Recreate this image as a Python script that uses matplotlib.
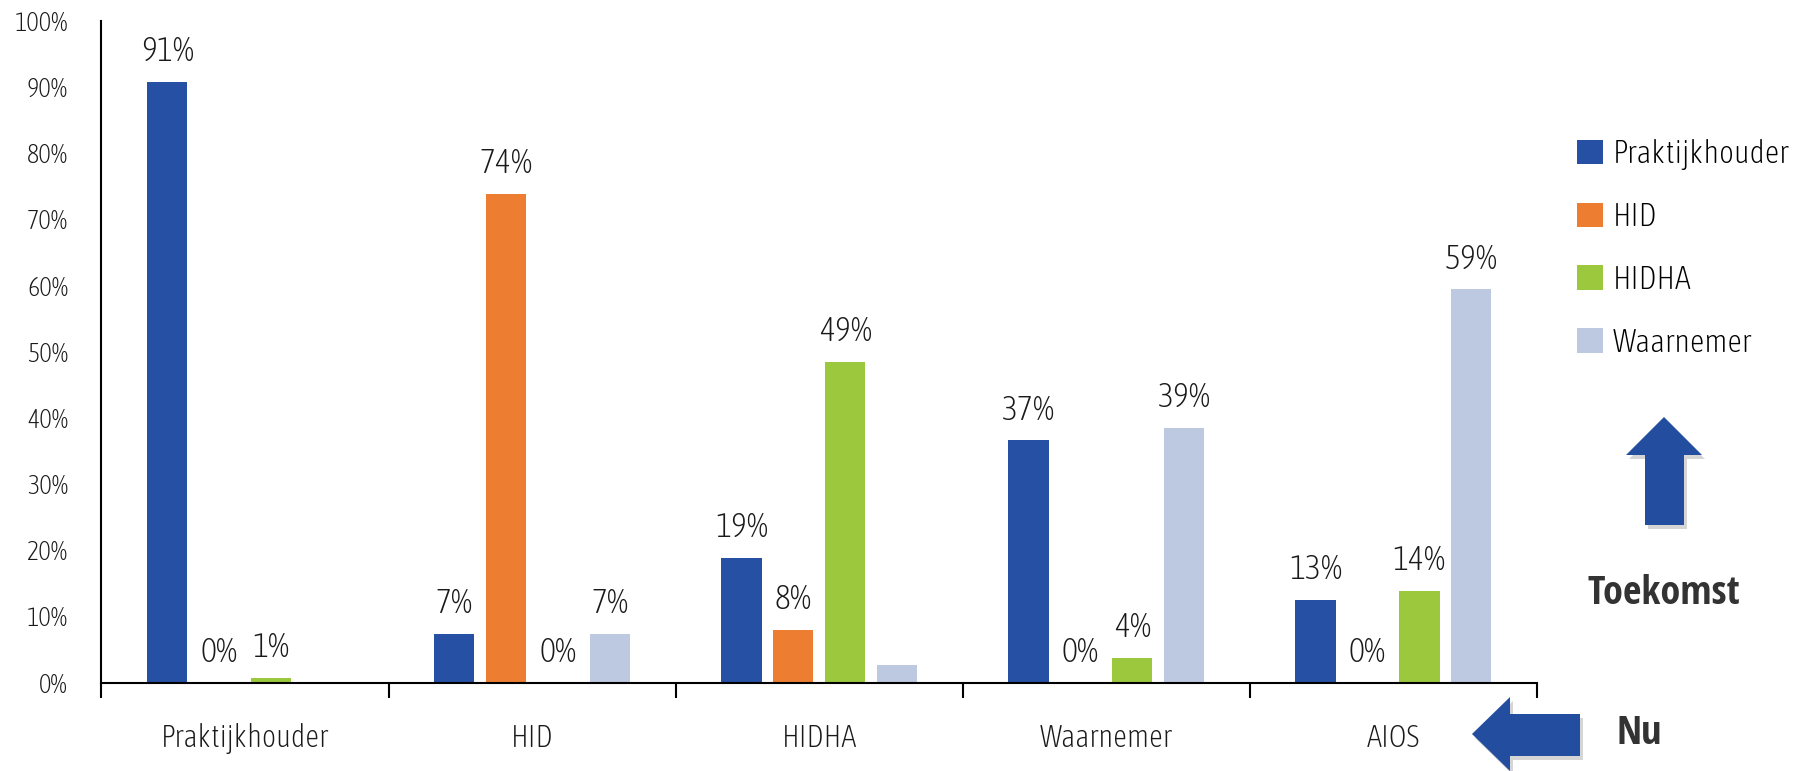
import numpy as np
import matplotlib
matplotlib.use('Agg')
import matplotlib.pyplot as plt
from matplotlib import font_manager as fm
from matplotlib.patches import Polygon

# Fuentes: condensada ligera para textos, condensada negrita para Toekomst / Nu
fuentes = fm.fontManager.ttflist
def buscar(nombre, ligera):
    lista = [f for f in fuentes if f.name == nombre and f.style == 'normal']
    if ligera:
        lista = [f for f in lista if 'light' in f.fname.lower() or f.weight in (200, 250, 300, 'light')]
    else:
        lista = [f for f in lista if 'bold' in f.fname.lower() or f.weight in (700, 'bold')]
    return lista[0].fname if lista else None

f_ligera = (buscar('Open Sans Condensed', True) or buscar('Asap Condensed', True)
            or buscar('Barlow Semi Condensed', True))
f_negrita = buscar('Open Sans Condensed', False) or buscar('Asap Condensed', False)
p_ligera = fm.FontProperties(fname=f_ligera) if f_ligera else fm.FontProperties(family='DejaVu Sans')
p_negrita = fm.FontProperties(fname=f_negrita) if f_negrita else fm.FontProperties(family='DejaVu Sans', weight='bold')

# Datos
categorias = ['Praktijkhouder', 'HID', 'HIDHA', 'Waarnemer', 'AIOS']
series = ['Praktijkhouder', 'HID', 'HIDHA', 'Waarnemer']
colores = ['#2550A3', '#ED7D31', '#9BC83C', '#BDC9E1']

praktijkhouder = [90.8, 7.3, 18.8, 36.6, 12.5]
hid = [0.0, 73.9, 8.0, 0.0, 0.0]
hidha = [0.7, 0.0, 48.4, 3.7, 13.8]
waarnemer = [0.0, 7.3, 2.6, 38.5, 59.4]

lab_praktijkhouder = ['91%', '7%', '19%', '37%', '13%']
lab_hid = ['0%', '74%', '8%', '0%', '0%']
lab_hidha = ['1%', '0%', '49%', '4%', '14%']
lab_waarnemer = [None, '7%', None, '39%', '59%']

valores = [praktijkhouder, hid, hidha, waarnemer]
etiquetas = [lab_praktijkhouder, lab_hid, lab_hidha, lab_waarnemer]

def prop(base, size):
    p = base.copy()
    p.set_size(size)
    return p

fig = plt.figure(figsize=(18.08, 7.71), dpi=100)
ax = fig.add_axes([0.0561, 0.1147, 0.794, 0.8583])

x = np.arange(len(categorias))
paso = 0.1807
ancho = 0.1406
for i, (vals, labs) in enumerate(zip(valores, etiquetas)):
    pos = x + (i - 1.5) * paso
    ax.bar(pos, vals, width=ancho, color=colores[i], label=series[i], zorder=2)
    for xp, v, t in zip(pos, vals, labs):
        if t is None:
            continue
        ax.annotate(t, (xp, v), xytext=(0, 15), textcoords='offset points',
                    ha='center', va='baseline', fontproperties=prop(p_ligera, 24.5),
                    color='#1a1a1a')

ax.set_xlim(-0.5, 4.5)
ax.set_ylim(0, 100)
ax.set_yticks(np.arange(0, 101, 10))
ax.set_yticklabels([f'{v}%' for v in range(0, 101, 10)])
ax.tick_params(axis='y', length=0, pad=24, labelcolor='#1a1a1a')
ax.set_xticks(x)
ax.set_xticklabels(categorias)
ax.tick_params(axis='x', which='major', length=0, pad=29, labelcolor='#1a1a1a')
ax.set_xticks(np.arange(-0.5, 5, 1), minor=True)
ax.tick_params(axis='x', which='minor', length=11, width=1.5, direction='out')
for t in ax.get_yticklabels():
    t.set_fontproperties(prop(p_ligera, 19))
for t in ax.get_xticklabels():
    t.set_fontproperties(prop(p_ligera, 22))

for s in ['top', 'right']:
    ax.spines[s].set_visible(False)
ax.spines['left'].set_linewidth(1.5)
ax.spines['bottom'].set_linewidth(1.5)

# Leyenda
ax.legend(loc='upper left', bbox_to_anchor=(1.008, 0.865), frameon=False,
          prop=prop(p_ligera, 23), handlelength=0.8, handleheight=0.8,
          labelspacing=1.0, handletextpad=0.3)

# Flechas (coordenadas en pixeles de la figura)
W, H = 1808, 771
def px(pts):
    return [(a / W, 1 - b / H) for a, b in pts]

azul = '#234EA0'
flecha_arriba = [(1645, 525), (1645, 455), (1626, 455), (1664, 417),
                 (1702, 455), (1684, 455), (1684, 525)]
flecha_izq = [(1580, 714), (1510, 714), (1510, 697), (1472, 734),
              (1510, 771), (1510, 756), (1580, 756)]
for pts in [flecha_arriba, flecha_izq]:
    sombra = [(a + 3, b + 4) for a, b in pts]
    fig.patches.append(Polygon(px(sombra), closed=True, transform=fig.transFigure,
                               facecolor='#888888', alpha=0.35, edgecolor='none'))
    fig.patches.append(Polygon(px(pts), closed=True, transform=fig.transFigure,
                               facecolor=azul, edgecolor='none'))

fig.text(1664 / W, 1 - 594 / H, 'Toekomst', ha='center', va='center',
         fontproperties=prop(p_negrita, 29), color='#333333')
fig.text(1639 / W, 1 - 734 / H, 'Nu', ha='center', va='center',
         fontproperties=prop(p_negrita, 29), color='#333333')

fig.savefig('out.png', dpi=100, facecolor='white')
